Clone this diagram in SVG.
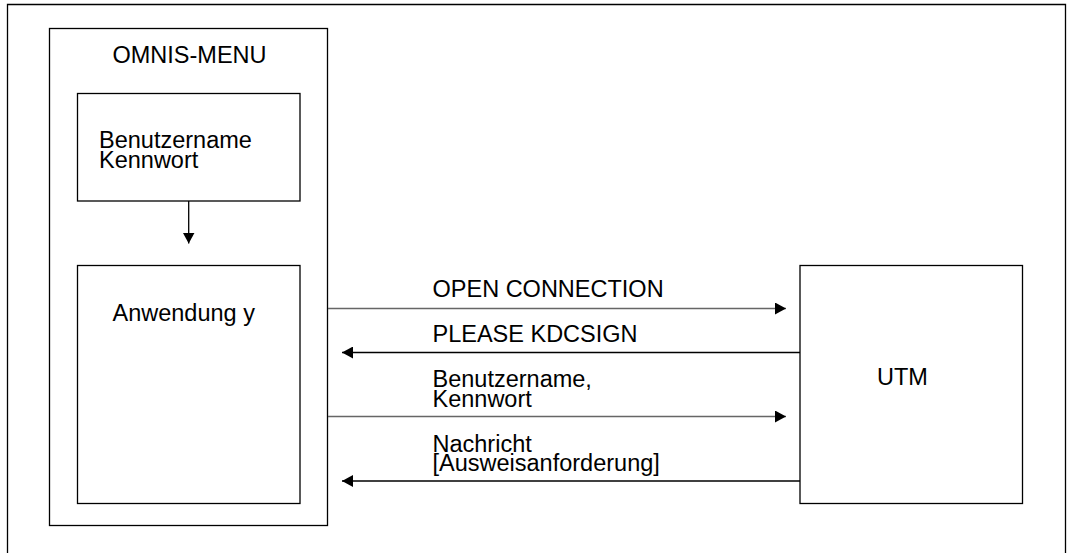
<svg xmlns="http://www.w3.org/2000/svg" width="1069" height="553" viewBox="0 0 1069 553">
<defs>
<style>
.box{fill:none;stroke:#000;stroke-width:1.3}
.t{font-family:"Liberation Sans",Arial,sans-serif;font-size:23.5px;fill:#000}
.c{stroke:#666;stroke-width:1.3;fill:none}
.cb{stroke:#000;stroke-width:1.3;fill:none}
</style>
<marker id="ah" viewBox="0 0 11 12" refX="11" refY="6" markerWidth="11" markerHeight="12" markerUnits="userSpaceOnUse" orient="auto">
<path d="M0,0 L11,6 L0,12 Z" fill="#000"/>
</marker>
</defs>
<rect width="1069" height="553" fill="#fff"/>
<path class="box" d="M7.5,560 V4.5 H1065.5 V560"/>
<g id="omnis-menu">
<rect class="box" x="49.5" y="28.5" width="278" height="497"/>
<text class="t" x="112.5" y="62.5">OMNIS-MENU</text>
</g>
<g id="login">
<rect class="box" x="77.5" y="93.5" width="222.5" height="107.5"/>
<text class="t" x="99" y="148.3">Benutzername</text>
<text class="t" x="99" y="167.7">Kennwort</text>
</g>
<g id="anwendung">
<rect class="box" x="77.5" y="265.5" width="222.5" height="238"/>
<text class="t" x="112.5" y="321">Anwendung y</text>
</g>
<g id="utm">
<rect class="box" x="800" y="265.5" width="222.5" height="238"/>
<text class="t" x="877" y="385">UTM</text>
</g>
<g id="connectors">
<line class="cb" x1="188.7" y1="201" x2="188.7" y2="243.5" marker-end="url(#ah)"/>
<line class="c" x1="328" y1="308.5" x2="786" y2="308.5" marker-end="url(#ah)"/>
<line class="cb" x1="800" y1="352.5" x2="342" y2="352.5" marker-end="url(#ah)"/>
<line class="c" x1="328" y1="416.5" x2="786" y2="416.5" marker-end="url(#ah)"/>
<line class="cb" x1="800" y1="481" x2="342" y2="481" marker-end="url(#ah)"/>
</g>
<g id="labels">
<text class="t" x="432.5" y="296.7">OPEN CONNECTION</text>
<text class="t" x="432.5" y="341.7">PLEASE KDCSIGN</text>
<text class="t" x="432.5" y="386.7">Benutzername,</text>
<text class="t" x="432.5" y="406.7">Kennwort</text>
<text class="t" x="432.5" y="451.7">Nachricht</text>
<text class="t" x="432.5" y="471">[Ausweisanforderung]</text>
</g>
</svg>
